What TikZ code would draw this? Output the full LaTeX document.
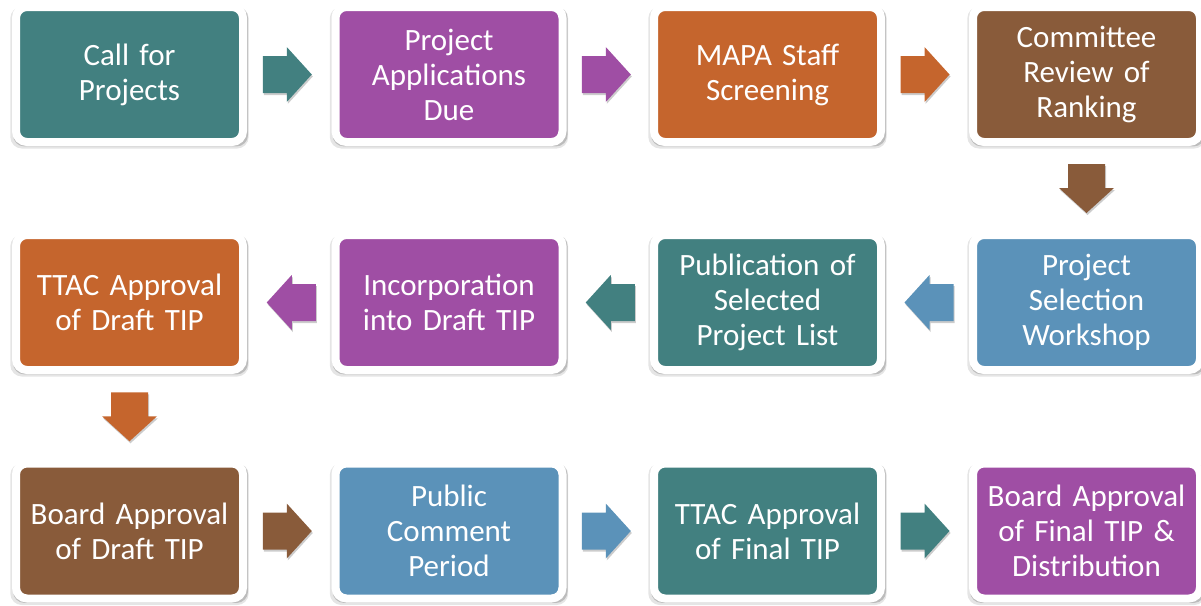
\documentclass[tikz,border=0pt]{standalone}
\usepackage{fontspec}
\setmainfont{Carlito}
\usetikzlibrary{shadows,calc}
\definecolor{cteal}{RGB}{66,128,128}
\definecolor{cpurple}{RGB}{159,78,164}
\definecolor{corange}{RGB}{197,101,45}
\definecolor{cbrown}{RGB}{137,91,58}
\definecolor{cblue}{RGB}{91,146,185}
\tikzset{
  stepbox/.style={fill=#1, draw=white, line width=8pt, rounded corners=11pt,
    minimum width=227pt, minimum height=135pt, inner sep=2pt,
    text width=215pt, align=center, text=white,
    font=\fontsize{31}{35}\selectfont,
    drop shadow={shadow xshift=0pt, shadow yshift=-3pt, shadow scale=1.05, opacity=0.10, fill=black},
    drop shadow={shadow xshift=1pt, shadow yshift=-2pt, shadow scale=1.035, opacity=0.18, fill=black}},
  arrowshadow/.style={drop shadow={shadow xshift=1pt, shadow yshift=-2pt, opacity=0.2, fill=black}},
  pics/blockarrow/.style={code={
    \fill[#1, arrowshadow] (-24.5,-18.5) -- (-0.5,-18.5) -- (-0.5,-27.5) -- (24.5,0)
      -- (-0.5,27.5) -- (-0.5,18.5) -- (-24.5,18.5) -- cycle;}}
}
\begin{document}
\begin{tikzpicture}[x=1pt,y=-1pt]
\useasboundingbox (0,0) rectangle (1201,605);
% row 1
\node[stepbox=cteal]   (b1)  at (129.5,74.5) {Call for\\Projects};
\node[stepbox=cpurple] (b2)  at (449,74.5)   {Project\\Applications\\Due};
\node[stepbox=corange] (b3)  at (767.5,74.5) {MAPA Staff\\Screening};
\node[stepbox=cbrown]  (b4)  at (1086.5,74.5) {Committee\\Review of\\Ranking};
% row 2
\node[stepbox=cblue]   (b5)  at (1086.5,302.5) {Project\\Selection\\Workshop};
\node[stepbox=cteal]   (b6)  at (767.5,302.5)  {Publication of\\Selected\\Project List};
\node[stepbox=cpurple] (b7)  at (449,302.5)    {Incorporation\\into Draft TIP};
\node[stepbox=corange] (b8)  at (129.5,302.5)  {TTAC Approval\\of Draft TIP};
% row 3
\node[stepbox=cbrown]  (b9)  at (129.5,531)  {Board Approval\\of Draft TIP};
\node[stepbox=cblue]   (b10) at (449,531)    {Public\\Comment\\Period};
\node[stepbox=cteal]   (b11) at (767.5,531)  {TTAC Approval\\of Final TIP};
\node[stepbox=cpurple] (b12) at (1086.5,531) {Board Approval\\of Final TIP \&\\Distribution};
% arrows
\coordinate (a1)  at ($(b1.east)!0.5!(b2.west)+(-2,0)$);
\coordinate (a2)  at ($(b2.east)!0.5!(b3.west)+(-2,0)$);
\coordinate (a3)  at ($(b3.east)!0.5!(b4.west)+(-2,0)$);
\coordinate (a4)  at ($(b4.south)!0.5!(b5.north)$);
\coordinate (a5)  at ($(b5.west)!0.5!(b6.east)+(2,0)$);
\coordinate (a6)  at ($(b6.west)!0.5!(b7.east)+(2,0)$);
\coordinate (a7)  at ($(b7.west)!0.5!(b8.east)+(2,0)$);
\coordinate (a8)  at ($(b8.south)!0.5!(b9.north)$);
\coordinate (a9)  at ($(b9.east)!0.5!(b10.west)+(-2,0)$);
\coordinate (a10) at ($(b10.east)!0.5!(b11.west)+(-2,0)$);
\coordinate (a11) at ($(b11.east)!0.5!(b12.west)+(-2,0)$);
\pic at (a1) {blockarrow=cteal};
\pic at (a2) {blockarrow=cpurple};
\pic at (a3) {blockarrow=corange};
\pic[rotate=-90] at (a4) {blockarrow=cbrown};
\pic[rotate=180] at (a5) {blockarrow=cblue};
\pic[rotate=180] at (a6) {blockarrow=cteal};
\pic[rotate=180] at (a7) {blockarrow=cpurple};
\pic[rotate=-90] at (a8) {blockarrow=corange};
\pic at (a9) {blockarrow=cbrown};
\pic at (a10) {blockarrow=cblue};
\pic at (a11) {blockarrow=cteal};
\end{tikzpicture}
\end{document}
